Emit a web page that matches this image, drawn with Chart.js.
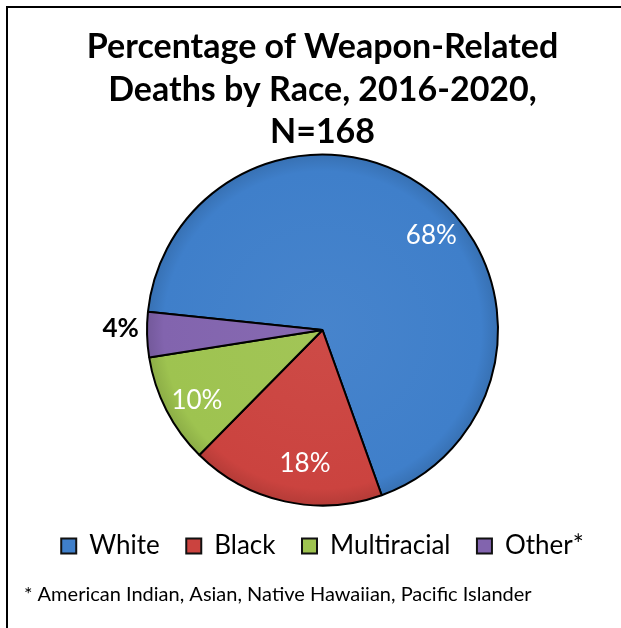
<!DOCTYPE html>
<html>
<head>
<meta charset="utf-8">
<title>Weapon-Related Deaths by Race</title>
<script src="https://cdn.jsdelivr.net/npm/chart.js@4.4.0/dist/chart.umd.min.js"></script>
<style>
html, body { margin: 0; padding: 0; background: #fff; }
#wrap { position: relative; width: 621px; height: 628px; overflow: hidden; }
#frame { position: absolute; left: 6px; top: 6px; width: 700px; height: 700px;
         border-left: 2px solid #000; border-top: 2px solid #000; }
#raceChart { position: absolute; left: 0; top: 0; }
</style>
</head>
<body>
<div id="wrap">
  <div id="frame"></div>
  <canvas id="raceChart" width="621" height="628"></canvas>
</div>
<script>
// data (N = 168)
const races = ['White', 'Black', 'Multiracial', 'Other*'];
const deaths = [114, 30, 17, 7];
const percentLabels = ['68%', '18%', '10%', '4%'];
const sliceColors = ['#3F7FCA', '#CB433F', '#9EC350', '#8264AE'];
const titleLines = ['Percentage of Weapon-Related', 'Deaths by Race, 2016-2020,', 'N=168'];
const footnote = '* American Indian, Asian, Native Hawaiian, Pacific Islander';

function shade(hex, amt) {
    let n = parseInt(hex.slice(1), 16);
    let r = (n >> 16) & 255, g = (n >> 8) & 255, b = n & 255;
    const f = c => Math.max(0, Math.min(255, Math.round(amt < 0 ? c * (1 + amt) : c + (255 - c) * amt)));
    return 'rgb(' + f(r) + ',' + f(g) + ',' + f(b) + ')';
}

function sliceFill(context) {
    const chart = context.chart;
    const area = chart.chartArea;
    const base = sliceColors[context.dataIndex];
    if (!area) return base;
    const cx = (area.left + area.right) / 2;
    const cy = (area.top + area.bottom) / 2;
    const r = Math.min(area.width, area.height) / 2;
    const g = chart.ctx.createRadialGradient(cx, cy, 0, cx, cy, r);
    g.addColorStop(0, shade(base, 0.04));
    g.addColorStop(0.9, base);
    g.addColorStop(1, shade(base, -0.12));
    return g;
}

// percentage labels placed from each arc's own geometry
const sliceLabels = {
    id: 'sliceLabels',
    afterDatasetsDraw(chart, args, opts) {
        const ctx = chart.ctx;
        const arcs = chart.getDatasetMeta(0).data;
        ctx.save();
        ctx.textAlign = 'center';
        ctx.textBaseline = 'middle';
        arcs.forEach((arc, i) => {
            const p = arc.getProps(['x', 'y', 'startAngle', 'endAngle', 'outerRadius'], true);
            const mid = (p.startAngle + p.endAngle) / 2 + opts.angleShift[i] * Math.PI / 180;
            const r = p.outerRadius * opts.radius[i];
            ctx.font = (i === 3 ? 'bold ' : '') + '26px Lato';
            ctx.fillStyle = opts.colors[i];
            ctx.fillText(percentLabels[i], p.x + Math.cos(mid) * r, p.y + Math.sin(mid) * r);
        });
        ctx.restore();
    }
};

new Chart(document.getElementById('raceChart'), {
    type: 'pie',
    data: {
        labels: races,
        datasets: [{
            data: deaths,
            backgroundColor: sliceFill,
            borderColor: '#000',
            borderWidth: 2
        }]
    },
    options: {
        responsive: false,
        animation: false,
        rotation: 276,
        layout: { padding: { left: 24 } },
        plugins: {
            title: {
                display: true,
                text: titleLines,
                color: '#000',
                font: { family: 'Lato', size: 34, weight: 'bold', lineHeight: 1.25 },
                padding: { top: 26, bottom: 0 }
            },
            legend: {
                position: 'bottom',
                labels: {
                    color: '#000',
                    font: { family: 'Lato', size: 26 },
                    boxWidth: 15,
                    boxHeight: 15,
                    padding: 26.5,
                    generateLabels(chart) {
                        const items = Chart.overrides.pie.plugins.legend.labels.generateLabels(chart);
                        items.forEach((it, i) => {
                            it.fillStyle = sliceColors[i];
                            it.strokeStyle = '#111';
                            it.lineWidth = 2;
                        });
                        return items;
                    }
                }
            },
            subtitle: {
                display: true,
                position: 'bottom',
                align: 'start',
                text: footnote,
                color: '#000',
                font: { family: 'Lato', size: 20, weight: 'normal' },
                padding: { top: 14, bottom: 21 }
            },
            tooltip: { enabled: false },
            sliceLabels: {
                angleShift: [11, -5, -2, 2],
                radius: [0.82, 0.77, 0.82, 1.15],
                colors: ['#fff', '#fff', '#fff', '#000']
            }
        }
    },
    plugins: [sliceLabels]
});
</script>
</body>
</html>
